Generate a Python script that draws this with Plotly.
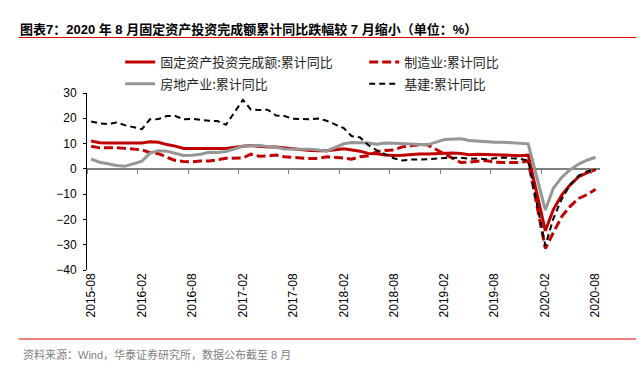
import plotly.graph_objects as go

# ---------------- data ----------------
months = (["2015-%02d" % m for m in range(8, 13)]
          + ["2016-%02d" % m for m in range(2, 13)]
          + ["2017-%02d" % m for m in range(2, 13)]
          + ["2018-%02d" % m for m in range(2, 13)]
          + ["2019-%02d" % m for m in range(2, 13)]
          + ["2020-%02d" % m for m in range(2, 9)])

fai = [11.0, 10.3, 10.2, 10.2, 10.0,
       10.2, 10.7, 10.5, 9.6, 9.0, 8.1, 8.1, 8.2, 8.3, 8.3, 8.1,
       8.9, 9.2, 8.9, 8.6, 8.6, 8.3, 7.8, 7.5, 7.3, 7.2, 7.2,
       7.9, 7.5, 7.0, 6.1, 6.0, 5.5, 5.3, 5.4, 5.7, 5.9, 5.9,
       6.1, 6.3, 6.1, 5.6, 5.8, 5.7, 5.5, 5.4, 5.2, 5.2, 5.4,
       -24.5, -16.1, -10.3, -6.3, -3.1, -1.6, -0.3]

mfg = [8.9, 8.3, 8.3, 8.4, 8.1,
       7.5, 6.4, 6.0, 4.6, 3.3, 2.9, 2.8, 3.1, 3.1, 3.6, 4.2,
       4.3, 5.8, 5.0, 5.1, 5.5, 4.8, 4.5, 4.2, 4.1, 4.1, 4.8,
       4.3, 3.8, 4.8, 5.2, 6.8, 7.3, 7.5, 8.7, 9.1, 9.5, 9.5,
       5.9, 4.6, 2.5, 2.7, 3.0, 3.3, 2.6, 2.5, 2.6, 2.5, 3.1,
       -31.5, -25.2, -18.8, -14.8, -11.7, -10.2, -8.1]

realestate = [3.9, 2.6, 2.0, 1.3, 1.0,
              3.0, 6.2, 7.2, 7.0, 6.1, 5.3, 5.4, 5.8, 6.6, 6.5, 6.9,
              8.9, 9.1, 9.3, 8.8, 8.5, 7.9, 7.9, 8.1, 7.8, 7.5, 7.0,
              9.9, 10.4, 10.3, 10.2, 9.7, 10.2, 10.1, 9.9, 9.7, 9.7, 9.5,
              11.6, 11.8, 11.9, 11.2, 10.9, 10.6, 10.5, 10.5, 10.3, 10.2, 9.9,
              -16.3, -7.7, -3.3, -0.3, 1.9, 3.4, 4.6]

infra = [18.7, 18.0, 17.7, 18.3, 17.3,
         15.7, 19.6, 19.7, 20.9, 20.9, 19.6, 19.8, 19.4, 19.0, 18.9, 17.4,
         27.3, 23.5, 23.3, 23.4, 21.1, 20.9, 19.8, 19.8, 19.6, 19.9, 19.0,
         16.1, 13.0, 12.4, 9.4, 7.3, 5.7, 4.2, 3.3, 3.7, 3.7, 3.8,
         4.3, 4.4, 4.4, 4.0, 4.1, 3.8, 4.2, 4.5, 4.2, 4.0, 3.3,
         -30.3, -19.7, -11.8, -6.3, -2.7, -1.0, -0.3]

tick_labels = ["2015-08", "2016-02", "2016-08", "2017-02", "2017-08", "2018-02",
               "2018-08", "2019-02", "2019-08", "2020-02", "2020-08"]
y_ticks = [30, 20, 10, 0, -10, -20, -30, -40]

names = ["固定资产投资完成额:累计同比", "制造业:累计同比", "房地产业:累计同比", "基建:累计同比"]

title_text = "图表7：2020 年 8 月固定资产投资完成额累计同比跌幅较 7 月缩小（单位：%）"
source_text = "资料来源：Wind，华泰证券研究所，数据公布截至 8 月"

# ---------------- layout geometry ----------------
W, H = 644, 365
L, R, T, B = 78.5, 592, 85, 262
PW, PH = R - L, B - T


def px_x(p):
    return (p - L) / PW


def px_y(p):
    return (B - p) / PH


# points sit in the middle of their month slot (Excel "between tick marks")
xdates = [m + "-16" for m in months]
x_range = ["2015-08-01", "2020-09-01"]

RED = "#C00000"
GREY = "#969696"
LATIN_CJK = "Liberation Sans, Arial, Noto Sans CJK SC"

fig = go.Figure()
fig.add_trace(go.Scatter(x=xdates, y=fai, mode="lines", name=names[0],
                         line=dict(color=RED, width=3), legend="legend"))
fig.add_trace(go.Scatter(x=xdates, y=mfg, mode="lines", name=names[1],
                         line=dict(color=RED, width=3, dash="9px,4px"), legend="legend2"))
fig.add_trace(go.Scatter(x=xdates, y=realestate, mode="lines", name=names[2],
                         line=dict(color=GREY, width=3), legend="legend3"))
fig.add_trace(go.Scatter(x=xdates, y=infra, mode="lines", name=names[3],
                         line=dict(color="#000000", width=2, dash="6px,4px"), legend="legend4"))
# invisible helper trace to carry the tick-mark axis on the zero line
fig.add_trace(go.Scatter(x=[xdates[0]], y=[None], xaxis="x2", showlegend=False,
                         hoverinfo="skip", mode="lines"))

legend_font = dict(family="Noto Sans CJK SC", size=13, color="#262626")


def leg(text_px_x, row_px_y):
    return dict(x=px_x(text_px_x - 50), y=px_y(row_px_y), xanchor="left", yanchor="middle",
                orientation="h", font=legend_font, bgcolor="rgba(0,0,0,0)",
                borderwidth=0, itemwidth=30)


fig.update_layout(
    width=W, height=H,
    margin=dict(l=L, r=W - R, t=T, b=H - B, pad=0, autoexpand=False),
    paper_bgcolor="white", plot_bgcolor="white",
    showlegend=True,
    legend=leg(161.7, 54),
    legend2=leg(406, 54),
    legend3=leg(161.7, 75.7),
    legend4=leg(406, 75.7),
    title=dict(text="<b>" + title_text + "</b>", x=12 / W, xref="container",
               y=1 - 21 / H, yref="container", xanchor="left", yanchor="middle",
               font=dict(family=LATIN_CJK, size=13, color="#000000")),
    xaxis=dict(type="date", range=x_range, showgrid=False, zeroline=False, showline=False,
               ticks="", tickvals=[t + "-16" for t in tick_labels], ticktext=tick_labels,
               tickangle=-90, tickfont=dict(family=LATIN_CJK, size=12, color="#000000")),
    xaxis2=dict(type="date", range=x_range, overlaying="x", anchor="free",
                position=(0 - (-40)) / 70, side="bottom", showgrid=False, zeroline=False,
                showline=False, ticks="outside", ticklen=4, tickwidth=1, tickcolor="#7F7F7F",
                tickvals=[t + "-01" for t in tick_labels], showticklabels=False),
    yaxis=dict(range=[-40, 30], tickvals=y_ticks, showgrid=False, showline=True,
               linecolor="#000000", linewidth=1, ticks="outside", ticklen=3,
               tickcolor="#000000", zeroline=True, zerolinecolor="#7F7F7F",
               zerolinewidth=1.5, ticklabelstandoff=4,
               tickfont=dict(family=LATIN_CJK, size=12, color="#000000")),
    annotations=[dict(text=source_text, xref="paper", yref="paper",
                      x=px_x(12.5), y=px_y(346), xanchor="left", yanchor="middle",
                      showarrow=False,
                      font=dict(family=LATIN_CJK, size=11, color="#7F7F7F"))],
    shapes=[
        dict(type="line", xref="paper", yref="paper", x0=px_x(10), x1=px_x(638),
             y0=px_y(29.5), y1=px_y(29.5), line=dict(color="#E00000", width=1)),
        dict(type="line", xref="paper", yref="paper", x0=px_x(10), x1=px_x(640),
             y0=px_y(331), y1=px_y(331), line=dict(color="#E00000", width=1)),
    ],
)

fig.write_html("out.html")
